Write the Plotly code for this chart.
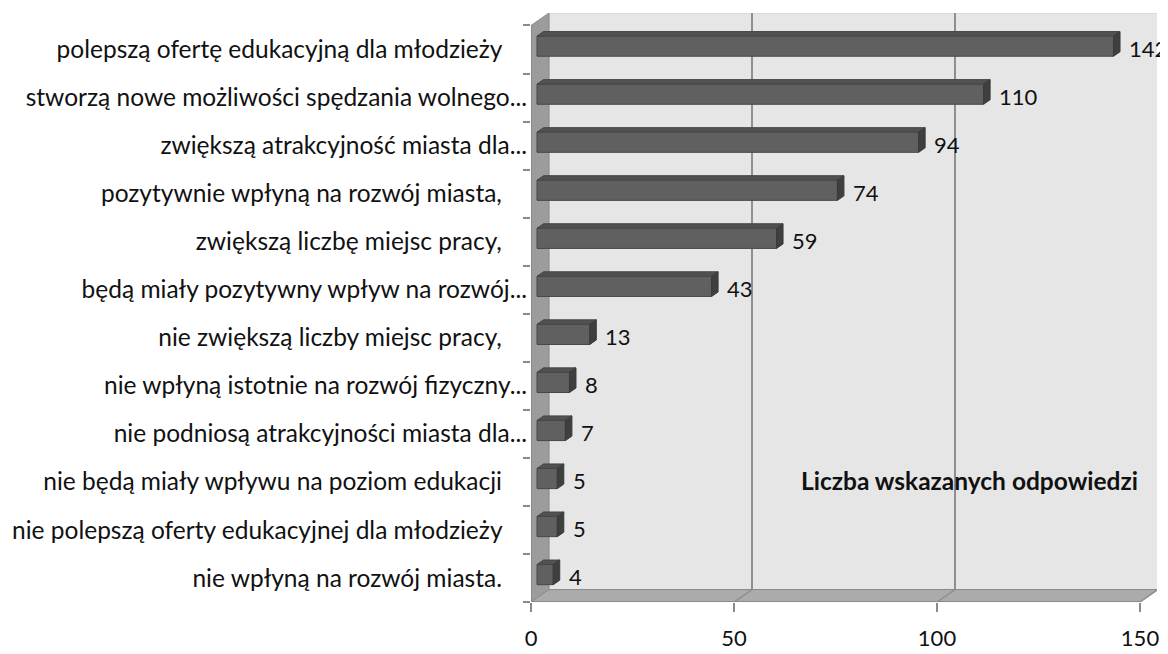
import plotly.graph_objects as go

categories = [
    "polepszą ofertę edukacyjną dla młodzieży",
    "stworzą nowe możliwości spędzania wolnego...",
    "zwiększą atrakcyjność miasta dla...",
    "pozytywnie wpłyną na rozwój miasta,",
    "zwiększą liczbę miejsc pracy,",
    "będą miały pozytywny wpływ na rozwój...",
    "nie zwiększą liczby miejsc pracy,",
    "nie wpłyną istotnie na rozwój fizyczny...",
    "nie podniosą atrakcyjności miasta dla...",
    "nie będą miały wpływu na poziom edukacji",
    "nie polepszą oferty edukacyjnej dla młodzieży",
    "nie wpłyną na rozwój miasta.",
]
values = [142, 110, 94, 74, 59, 43, 13, 8, 7, 5, 5, 4]
x_ticks = [0, 50, 100, 150]
series_name = "Liczba wskazanych odpowiedzi"

# ---- geometry / style (page pixels; page body has an 8px margin) ----
OFF = 8
W, H = 1168 - OFF, 654 - OFF
L, R, T, B = 531 - OFF, 11, 13 - OFF, 52
PX_X = 4.06                      # px per value unit
PX_Y = (H - T - B) / 12.25       # px per category unit
X_MAX = (W - L - R) / PX_X
WALL_DX = 18 / PX_X
WALL_DY = 12.5 / PX_Y
BAR_BASE = 6.0 / PX_X
BAR_DX = 6.5 / PX_X
BAR_DY = 4.5 / PX_Y
BAR_W = 0.42
BAR_OFF = -0.28
N = len(categories)
y_pos = list(range(N))

def trail(lbl):
    return lbl if lbl.endswith("...") else lbl + "\u00a0\u00a0\u00a0\u00a0"

FONT = "Lato, 'Open Sans', sans-serif"

fig = go.Figure()
fig.add_trace(go.Bar(
    y=y_pos, x=values, base=BAR_BASE, orientation="h",
    width=BAR_W, offset=BAR_OFF,
    marker=dict(color="#606060", line=dict(color="#474747", width=1)),
    name=series_name, showlegend=False, hoverinfo="x",
))

shapes = []
ybot = N - 0.5
ytop = -0.5
# back wall
shapes.append(dict(type="rect", xref="x", yref="y", layer="below",
                   x0=WALL_DX, x1=150 + WALL_DX, y0=ytop - WALL_DY, y1=ybot - WALL_DY,
                   fillcolor="#e6e6e6", line=dict(color="#d0d0d0", width=1)))
# left wall
shapes.append(dict(type="path", xref="x", yref="y", layer="below",
                   path=f"M 0 {ytop} L {WALL_DX} {ytop - WALL_DY} L {WALL_DX} {ybot - WALL_DY} L 0 {ybot} Z",
                   fillcolor="#9c9c9c", line=dict(color="#8a8a8a", width=1)))
# floor
shapes.append(dict(type="path", xref="x", yref="y", layer="below",
                   path=f"M 0 {ybot} L {WALL_DX} {ybot - WALL_DY} L {150 + WALL_DX} {ybot - WALL_DY} L 150 {ybot} Z",
                   fillcolor="#ababab", line=dict(color="#8a8a8a", width=1)))
# back wall grid lines and floor lines
for v in x_ticks[1:]:
    shapes.append(dict(type="line", xref="x", yref="y", layer="below",
                       x0=v + WALL_DX, x1=v + WALL_DX, y0=ytop - WALL_DY, y1=ybot - WALL_DY,
                       line=dict(color="#8f8f8f", width=2)))
    shapes.append(dict(type="line", xref="x", yref="y", layer="below",
                       x0=v, x1=v + WALL_DX, y0=ybot, y1=ybot - WALL_DY,
                       line=dict(color="#8f8f8f", width=1.5)))
# front axis lines
shapes.append(dict(type="line", xref="x", yref="y", layer="below",
                   x0=0, x1=0, y0=ytop, y1=ybot, line=dict(color="#8a8a8a", width=2)))
shapes.append(dict(type="line", xref="x", yref="y", layer="below",
                   x0=0, x1=150, y0=ybot, y1=ybot, line=dict(color="#8a8a8a", width=2)))

# 3D faces of bars
for i, v in enumerate(values):
    yt = i + BAR_OFF
    yb = yt + BAR_W
    x0 = BAR_BASE
    x1 = BAR_BASE + v
    shapes.append(dict(type="path", xref="x", yref="y", layer="above",
                       path=f"M {x0} {yt} L {x1} {yt} L {x1 + BAR_DX} {yt - BAR_DY} L {x0 + BAR_DX} {yt - BAR_DY} Z",
                       fillcolor="#515151", line=dict(color="#474747", width=1)))
    shapes.append(dict(type="path", xref="x", yref="y", layer="above",
                       path=f"M {x1} {yt} L {x1 + BAR_DX} {yt - BAR_DY} L {x1 + BAR_DX} {yb - BAR_DY} L {x1} {yb} Z",
                       fillcolor="#3f3f3f", line=dict(color="#3a3a3a", width=1)))

annotations = []
for i, v in enumerate(values):
    annotations.append(dict(x=BAR_BASE + v + BAR_DX, y=i - 0.03, xref="x", yref="y",
                            text=str(v), showarrow=False, xanchor="left", yanchor="middle",
                            xshift=7, font=dict(family=FONT, size=22, color="#111111")))
annotations.append(dict(x=(969.5 - OFF - L) / (W - L - R), y=1 - (481 - OFF - T) / (H - T - B),
                        xref="paper", yref="paper", text=f"<b>{series_name}</b>",
                        showarrow=False, xanchor="center", yanchor="middle",
                        font=dict(family=FONT, size=24.5, color="#111111")))

fig.update_layout(
    width=W, height=H,
    margin=dict(l=L, r=R, t=T, b=B, pad=0, autoexpand=False),
    paper_bgcolor="white", plot_bgcolor="white",
    shapes=shapes, annotations=annotations,
    showlegend=False,
    xaxis=dict(range=[0, X_MAX], tickvals=x_ticks, ticks="outside", ticklen=9,
               tickcolor="#8a8a8a", tickwidth=2, showgrid=False, zeroline=False,
               showline=False, ticklabelstandoff=8, automargin=False,
               tickfont=dict(family=FONT, size=22, color="#111111")),
    yaxis=dict(range=[ybot, ytop - WALL_DY], tickvals=y_pos,
               ticktext=[trail(c) for c in categories], ticks="", showgrid=False,
               zeroline=False, showline=False, ticklabelstandoff=3, automargin=False,
               minor=dict(tickvals=[k - 0.5 for k in range(N + 1)], ticks="outside",
                          ticklen=7, tickcolor="#8a8a8a", tickwidth=2, showgrid=False),
               tickfont=dict(family=FONT, size=24.5, color="#111111")),
)

fig.write_html("out.html")
